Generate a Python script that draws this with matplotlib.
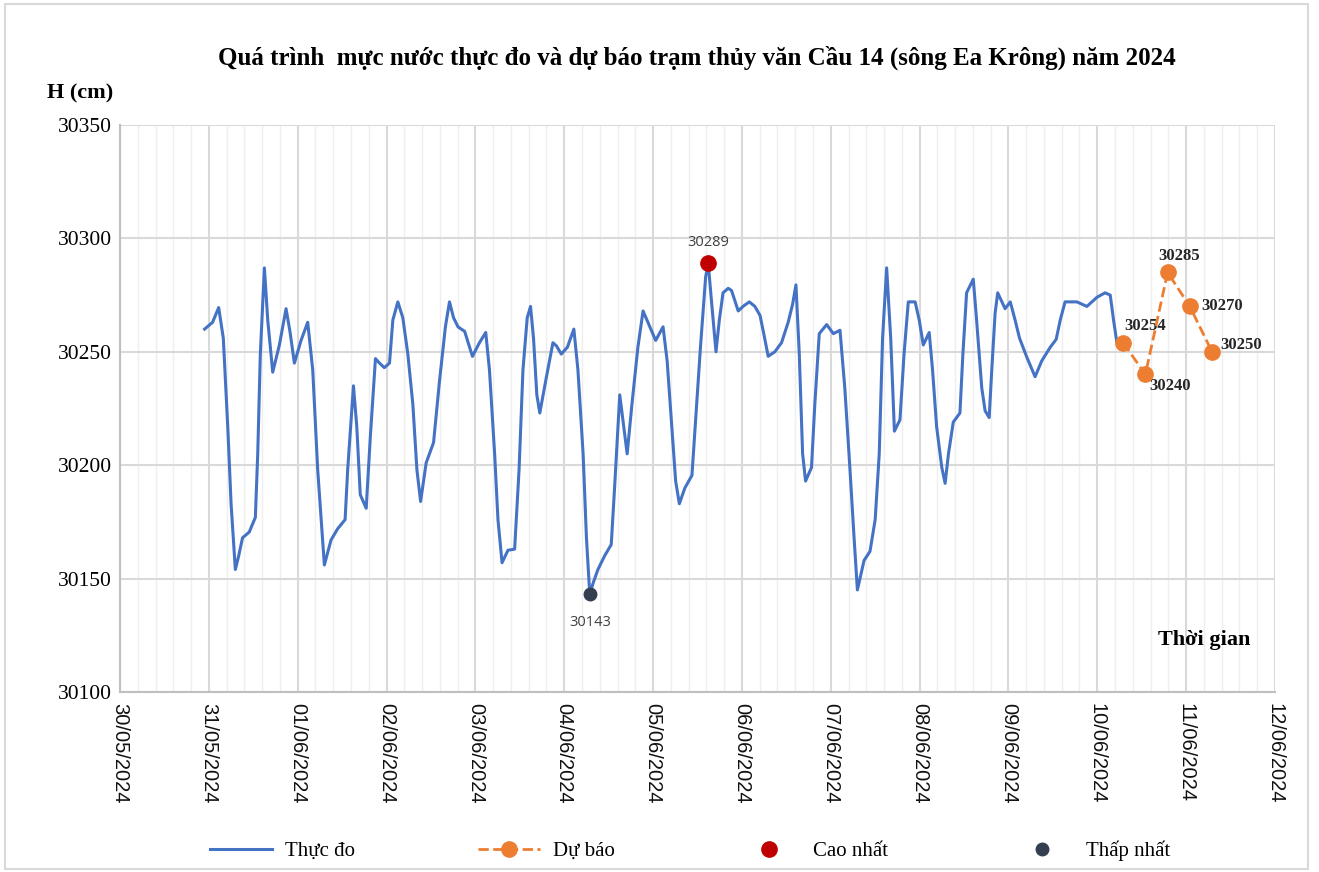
import matplotlib
matplotlib.use("Agg")
import matplotlib.pyplot as plt
from matplotlib.ticker import MultipleLocator, FixedLocator
from matplotlib.lines import Line2D
from matplotlib.patches import Rectangle
import numpy as np

# --- data (hours counted from 31/05/2024 00:00) ---
OBS_HOURS = [
    -1.15, 1.0, 2.65, 3.9, 5.1, 6.0, 7.15, 8.05, 9.1, 10.9, 12.56, 13.2, 13.9,
    15.0, 15.9, 17.25, 19.05, 20.85, 21.9, 23.1, 24.9, 26.7, 28.06, 29.4, 31.2,
    33.0, 34.8, 36.8, 37.5, 39.06, 39.96, 40.9, 42.5, 43.6, 45.0, 46.1, 47.4,
    48.8, 49.7, 51.05, 52.4, 53.75, 55.1, 56.2, 57.2, 58.7, 60.7, 62.3, 63.9,
    65.0, 66.1, 67.3, 69.1, 71.2, 73.1, 74.8, 75.8, 77.2, 78.1, 79.2, 80.8,
    82.6, 83.8, 84.85, 86.0, 86.9, 87.7, 88.6, 89.4, 91.2, 92.95, 93.9, 95.2,
    96.85, 98.6, 99.7, 101.1, 102.0, 102.9, 103.8, 105.1, 106.9, 108.7, 109.6,
    111.0, 113.0, 114.3, 115.9, 117.3, 118.6, 120.7, 122.7, 123.8, 125.2,
    126.1, 127.1, 128.6, 130.5, 131.5, 132.8, 134.2, 134.9, 135.8, 137.0,
    137.9, 138.9, 140.3, 141.2, 143.0, 144.3, 146.0, 147.5, 148.9, 149.9,
    151.1, 152.9, 154.7, 156.5, 157.7, 158.6, 159.5, 160.4, 161.2, 162.8,
    163.7, 164.9, 166.9, 168.7, 170.5, 171.8, 173.2, 174.3, 175.2, 177.0,
    178.6, 180.0, 181.1, 182.0, 183.1, 184.2, 185.2, 186.7, 187.8, 188.95,
    190.8, 191.9, 193.0, 194.6, 195.5, 196.6, 198.0, 198.9, 199.8, 201.1,
    202.9, 203.7, 204.7, 206.5, 207.4, 208.8, 209.7, 210.8, 211.5, 212.4,
    213.1, 215.1, 216.5, 217.8, 219.0, 221.0, 223.2, 225.0, 227.3, 228.9,
    230.0, 231.3, 234.5, 237.2, 239.9, 242.1, 243.5, 244.4, 245.3, 246.5,
]
OBS_H = [
    30260, 30263, 30269.5, 30256, 30217, 30183, 30154, 30160, 30168, 30170.5,
    30177, 30205, 30249, 30287, 30264, 30241, 30253, 30269, 30259, 30245,
    30255, 30263, 30242, 30198, 30156, 30167, 30172, 30176, 30198, 30235,
    30217, 30187, 30181, 30212, 30247, 30245, 30243, 30245, 30264, 30272,
    30265, 30249, 30227, 30198, 30184, 30201, 30210, 30237, 30261, 30272,
    30265, 30261, 30259, 30248, 30254, 30258.5, 30242, 30205, 30176, 30157,
    30162.5, 30163, 30198, 30242, 30265, 30270, 30256, 30231, 30223, 30239,
    30254, 30252.6, 30249, 30252, 30260, 30242, 30205, 30168, 30143, 30148,
    30154, 30160, 30165, 30190, 30231, 30205, 30227, 30252, 30268, 30263,
    30255, 30261, 30246, 30214, 30193, 30183, 30190, 30195.5, 30220, 30252,
    30283, 30289, 30272, 30250, 30264, 30276, 30278, 30277, 30268, 30270,
    30272, 30270, 30266, 30258, 30248, 30250, 30254, 30263, 30271, 30279.5,
    30249, 30205, 30193, 30199, 30227, 30258, 30262, 30258, 30259.5, 30234,
    30198, 30168, 30145, 30158, 30162, 30176, 30205, 30256, 30287, 30256,
    30215, 30220, 30249, 30272, 30272, 30264, 30253, 30258.5, 30242, 30217,
    30199, 30192, 30205, 30219, 30223, 30249, 30276, 30282, 30264, 30234,
    30224, 30221, 30242, 30267, 30276, 30269, 30272, 30264, 30256, 30247.5,
    30239, 30246, 30252, 30255.5, 30264, 30272, 30272, 30270, 30274, 30276,
    30275, 30264, 30254, 30254,
]
FC_HOURS = [247, 253, 259, 265, 271]
FC_H = [30254, 30240, 30285, 30270, 30250]
FC_OFFSETS = [(16, 12), (18, -8), (8, 12), (23, 0), (21, 5)]  # label offsets (pt)

Y_TICKS = [30100, 30150, 30200, 30250, 30300, 30350]
DATE_LABELS = ["30/05/2024", "31/05/2024", "01/06/2024", "02/06/2024",
               "03/06/2024", "04/06/2024", "05/06/2024", "06/06/2024",
               "07/06/2024", "08/06/2024", "09/06/2024", "10/06/2024",
               "11/06/2024", "12/06/2024"]

TITLE = "Quá trình  mực nước thực đo và dự báo trạm thủy văn Cầu 14 (sông Ea Krông) năm 2024"

SERIF = "Liberation Serif"
SANS = "Liberation Sans"

# x in days since 30/05/2024 00:00
obs_x = 1 + np.array(OBS_HOURS) / 24.0
obs_y = np.array(OBS_H)
fc_x = 1 + np.array(FC_HOURS) / 24.0

fig = plt.figure(figsize=(13.19, 8.72), dpi=100)
ax = fig.add_axes([0.091, 0.2064, 0.8756, 0.6503])

fig.patches.append(Rectangle((0.004, 0.004), 0.988, 0.991, transform=fig.transFigure,
                             fill=False, ec="#d9d9d9", lw=1.5))

ax.plot(obs_x, obs_y, color="#4472C4", lw=2.2, zorder=3)
ax.plot(fc_x, FC_H, color="#ED7D31", lw=2, ls="--", marker="o", ms=11,
        markeredgecolor="#ED7D31", zorder=4)

imax = int(np.argmax(obs_y))
imin = int(np.argmin(obs_y))
ax.plot(obs_x[imax], obs_y[imax], "o", color="#C00000", ms=11, zorder=5)
ax.plot(obs_x[imin], obs_y[imin], "o", color="#333F50", ms=9, zorder=5)
ax.annotate(f"{obs_y[imax]:.0f}", (obs_x[imax], obs_y[imax]), xytext=(0, 15),
            textcoords="offset points", ha="center", va="center",
            fontsize=10.5, color="#404040", family="Open Sans")
ax.annotate(f"{obs_y[imin]:.0f}", (obs_x[imin], obs_y[imin]), xytext=(0, -20),
            textcoords="offset points", ha="center", va="center",
            fontsize=10.5, color="#404040", family="Open Sans")

for x, y, (dx, dy) in zip(fc_x, FC_H, FC_OFFSETS):
    ax.annotate(f"{y}", (x, y), xytext=(dx, dy), textcoords="offset points",
                ha="center", va="center", fontsize=12, fontweight="bold",
                color="#262626", family=SERIF)

ax.set_xlim(0, 13)
ax.set_ylim(30100, 30350)
ax.xaxis.set_major_locator(FixedLocator(range(len(DATE_LABELS))))
ax.xaxis.set_minor_locator(MultipleLocator(0.2))
ax.set_xticklabels(DATE_LABELS, rotation=270, fontsize=14.5, family=SANS,
                   color="#111111")
ax.set_yticks(Y_TICKS, [str(t) for t in Y_TICKS], fontsize=15.5, family=SERIF)
ax.tick_params(axis="both", which="both", length=0)
ax.tick_params(axis="x", pad=8)
ax.tick_params(axis="y", pad=6)

ax.grid(which="major", color="#d9d9d9", lw=1.5, zorder=0)
ax.grid(which="minor", axis="x", color="#efefef", lw=1, zorder=0)
ax.set_axisbelow(True)
for s in ["top", "right"]:
    ax.spines[s].set_visible(False)
for s in ["left", "bottom"]:
    ax.spines[s].set_color("#bfbfbf")
    ax.spines[s].set_linewidth(1.5)

fig.text(0.528, 0.9335, TITLE, ha="center", va="center", fontsize=18,
         fontweight="bold", family=SERIF)
fig.text(0.036, 0.893, "H (cm)", ha="left", va="center", fontsize=16,
         fontweight="bold", family=SERIF)
ax.text(0.939, 0.092, "Thời gian", transform=ax.transAxes, ha="center",
        va="center", fontsize=16, fontweight="bold", family=SERIF)

handles = [
    Line2D([], [], color="#4472C4", lw=2.2),
    Line2D([], [], color="#ED7D31", lw=2, ls="--", marker="o", ms=11),
    Line2D([], [], color="#C00000", ls="none", marker="o", ms=11),
    Line2D([], [], color="#333F50", ls="none", marker="o", ms=9),
]
labels = ["Thực đo", "Dự báo", "Cao nhất", "Thấp nhất"]
fig.legend(handles, labels, loc="center", bbox_to_anchor=(0.523, 0.024), ncol=4,
           frameon=False, prop={"family": SERIF, "size": 15}, handlelength=3,
           columnspacing=5.9, handletextpad=0.6)

fig.savefig("out.png", dpi=100)
